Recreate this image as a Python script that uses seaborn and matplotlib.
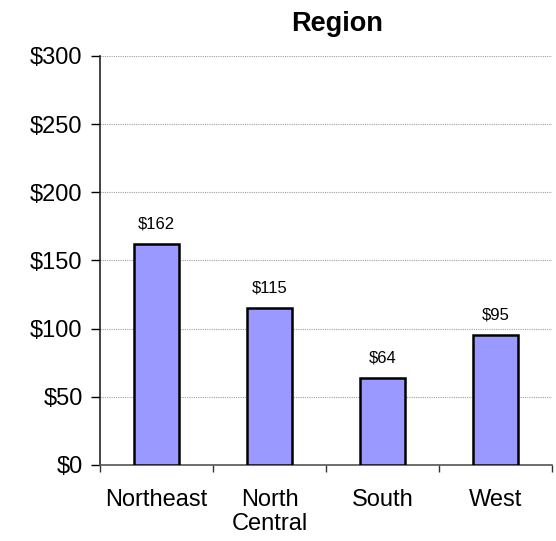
import matplotlib
matplotlib.use("Agg")
import matplotlib.pyplot as plt
import seaborn as sns
import pandas as pd
import numpy as np

# ----------------------------
# Data
# ----------------------------
regions = ["Northeast", "North\nCentral", "South", "West"]
sales = [162, 115, 64, 95]
yticks = [0, 50, 100, 150, 200, 250, 300]

df = pd.DataFrame({"region": regions, "sales": sales})

sns.set_style("white", {"text.color": "black", "xtick.color": "black",
                        "ytick.color": "black", "axes.labelcolor": "black",
                        "xtick.bottom": True, "ytick.left": True})
plt.rcParams["font.family"] = ["Liberation Sans", "DejaVu Sans"]

fig = plt.figure(figsize=(5.56, 5.41), dpi=100)
ax = fig.add_axes([0.1799, 0.1405, 0.813, 0.756])

sns.barplot(data=df, x="region", y="sales", color="#9999FF", saturation=1,
            width=0.405, edgecolor="black", linewidth=1.8, ax=ax, zorder=3)

# value labels
for i, v in enumerate(sales):
    ax.text(i, v + 11.5, f"${v}", ha="center", va="baseline", fontsize=12,
            color="black")

ax.set_ylim(0, 300)
ax.set_xlim(-0.5, len(regions) - 0.5)
ax.set_yticks(yticks)
ax.set_yticklabels([f"${t}" for t in yticks], fontsize=17)
ax.yaxis.grid(True, linestyle=(0, (1, 1)), color="#a0a0a0", linewidth=0.8, zorder=0)

# category labels, ticks at the boundaries
ax.set_xticks(range(len(regions)))
ax.set_xticklabels(regions, fontsize=17, linespacing=1.15)
ax.tick_params(axis="x", which="major", length=0, pad=17)
ax.set_xticks(np.arange(-0.5, len(regions)), minor=True)
ax.tick_params(axis="x", which="minor", bottom=True, length=5, width=1,
               color="#333333", direction="out")
ax.tick_params(axis="y", left=True, length=6.5, width=1, color="black",
               direction="out", pad=6)

for s in ["top", "right"]:
    ax.spines[s].set_visible(False)
ax.spines["left"].set_color("#222222")
ax.spines["bottom"].set_color("#555555")
ax.spines["left"].set_linewidth(1.2)
ax.spines["bottom"].set_linewidth(1.2)

ax.set_xlabel("")
ax.set_ylabel("")
ax.set_title("Region", fontsize=19.5, fontweight="bold", pad=18, x=0.525)

fig.savefig("out.png", dpi=100)
